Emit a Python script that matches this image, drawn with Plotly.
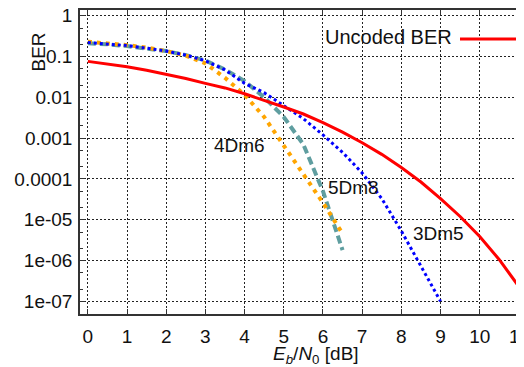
import plotly.graph_objects as go

# ---- data ----
ebn0_uncoded = [0, 0.5, 1, 1.5, 2, 2.5, 3, 3.5, 4, 4.5, 5, 5.5, 6, 6.5, 7, 7.5, 8, 8.5, 9, 9.5, 10, 10.5, 11]
ber_uncoded = [0.076, 0.066, 0.056, 0.046, 0.037, 0.029, 0.022, 0.017, 0.0122, 0.0086, 0.0058, 0.0039,
               0.0024, 0.0014, 7.7e-4, 4.0e-4, 1.9e-4, 8.4e-5, 3.3e-5, 1.2e-5, 3.9e-6, 1.05e-6, 2.3e-7]

ebn0_3dm5 = [0, 0.5, 1, 1.5, 2, 2.5, 3, 3.5, 4, 4.5, 5, 5.5, 6, 6.5, 7, 7.5, 8, 8.5, 9]
ber_3dm5 = [0.22, 0.205, 0.185, 0.16, 0.136, 0.108, 0.079, 0.047, 0.022, 0.013, 0.0063, 0.0030,
            0.0012, 4.5e-4, 1.4e-4, 3.3e-5, 5.3e-6, 7.5e-7, 1.0e-7]

ebn0_4dm6 = [0, 0.5, 1, 1.5, 2, 2.5, 3, 3.5, 4, 4.5, 5, 5.5, 6, 6.5]
ber_4dm6 = [0.23, 0.21, 0.19, 0.165, 0.136, 0.105, 0.068, 0.030, 0.0115, 0.0033, 6.5e-4, 1.3e-4, 2.6e-5, 4.6e-6]

ebn0_5dm8 = [0, 0.5, 1, 1.5, 2, 2.5, 3, 3.5, 4, 4.5, 5, 5.5, 6, 6.5]
ber_5dm8 = [0.21, 0.20, 0.18, 0.16, 0.136, 0.108, 0.080, 0.048, 0.025, 0.010, 0.0033, 7.0e-4, 5.0e-5, 1.8e-6]

x_ticks = list(range(0, 12))
y_tickvals = [1e-7, 1e-6, 1e-5, 1e-4, 1e-3, 1e-2, 1e-1, 1]
y_ticktext = ["1e-07", "1e-06", "1e-05", "0.0001", "0.001", "0.01", "0.1", "1"]

curve_labels = ["4Dm6", "5Dm8", "3Dm5"]
label_x = [3.86, 6.78, 8.96]
label_logy = [-3.18, -4.2, -5.33]

FONT = "Liberation Sans, Arial, sans-serif"

# page body adds an 8px offset; figure is sized so it ends at the window edge
OFF = 8
W, H = 524 - OFF, 367 - OFF
ML, MR, MT, MB = 80 - OFF, 0, 10 - OFF, 367 - 314

fig = go.Figure()
fig.add_trace(go.Scatter(x=ebn0_5dm8, y=ber_5dm8, mode="lines", name="5Dm8",
                         line=dict(color="#5f9ea0", width=4, dash="8px,4px")))
fig.add_trace(go.Scatter(x=ebn0_4dm6, y=ber_4dm6, mode="lines", name="4Dm6",
                         line=dict(color="#ffa500", width=4, dash="4px,5px")))
fig.add_trace(go.Scatter(x=ebn0_3dm5, y=ber_3dm5, mode="lines", name="3Dm5",
                         line=dict(color="#0000ff", width=3, dash="3px,3px")))
fig.add_trace(go.Scatter(x=ebn0_uncoded, y=ber_uncoded, mode="lines", name="Uncoded BER",
                         line=dict(color="#ff0000", width=3)))

axis_common = dict(
    showline=True, linecolor="#333", linewidth=1.5, mirror="ticks",
    ticks="inside", ticklen=5, tickcolor="#333", automargin=False,
    ticklabeloverflow="allow",
    showgrid=True, gridcolor="#222", gridwidth=1, griddash="2px,2px",
    zeroline=False, tickfont=dict(family=FONT, size=19, color="#111"),
)

fig.update_xaxes(range=[-0.2, 11.13], tickvals=x_ticks, ticklabelstandoff=4, **axis_common)
fig.update_yaxes(type="log", range=[-7.31, 0.14], tickvals=y_tickvals, ticktext=y_ticktext,
                 ticklabelstandoff=2,
                 minor=dict(dtick="D2", ticks="inside", ticklen=3, tickcolor="#333", showgrid=False),
                 **axis_common)


def fx(px):
    return (px - OFF - ML) / (W - ML - MR)


def fy(py):
    return 1 - (py - OFF - MT) / (H - MT - MB)


def px_ann(px, py, **kw):
    d = dict(xref="paper", yref="paper", x=fx(px), y=fy(py),
             showarrow=False, yanchor="middle")
    d.update(kw)
    return d


annotations = []
for t, lx, ly in zip(curve_labels, label_x, label_logy):
    annotations.append(dict(x=lx, y=ly, xref="x", yref="y", text=t, showarrow=False,
                            font=dict(family=FONT, size=19, color="#111")))
annotations.append(px_ann(25, 52, text="BER", textangle=-90,
                          font=dict(family=FONT, size=19, color="#111")))
annotations.append(px_ann(316, 355, text="<i>E</i><sub><i>b</i></sub>/<i>N</i><sub>0</sub> [dB]",
                          font=dict(family=FONT, size=19, color="#111")))
annotations.append(px_ann(454, 37, text="Uncoded BER", xanchor="right",
                          font=dict(family=FONT, size=20, color="#111")))

fig.add_shape(type="line", xref="paper", yref="paper",
              x0=fx(460), x1=fx(516), y0=fy(39), y1=fy(39),
              line=dict(color="#ff0000", width=3))

fig.update_layout(
    width=W, height=H, margin=dict(l=ML, r=MR, t=MT, b=MB),
    paper_bgcolor="white", plot_bgcolor="white", showlegend=False,
    annotations=annotations, font=dict(family=FONT),
)

fig.write_html("out.html")
